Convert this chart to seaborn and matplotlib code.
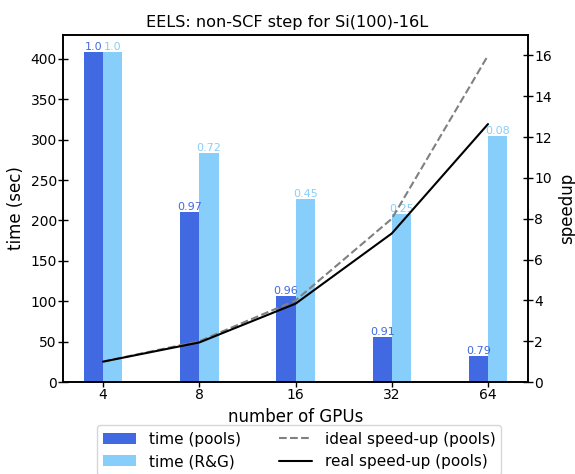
import numpy as np
import pandas as pd
import matplotlib
matplotlib.use("Agg")
import matplotlib.pyplot as plt
import seaborn as sns

gpus = ["4", "8", "16", "32", "64"]
time_pools = [409, 210.8, 106.5, 56.2, 32.4]
time_rg = [409, 283, 226, 208, 304]
eff_pools = [1.0, 0.97, 0.96, 0.91, 0.79]
eff_rg = [1.0, 0.72, 0.45, 0.25, 0.08]
ideal_speedup = [1, 2, 4, 8, 16]
real_speedup = [1, 1.94, 3.84, 7.28, 12.64]

sns.set_style("ticks", rc={
    "axes.edgecolor": "black", "text.color": "black",
    "axes.labelcolor": "black", "xtick.color": "black", "ytick.color": "black",
})
plt.rcParams["font.family"] = ["DejaVu Sans"]

df = pd.DataFrame({
    "gpus": gpus * 2,
    "time": time_pools + time_rg,
    "method": ["time (pools)"] * len(gpus) + ["time (R&G)"] * len(gpus),
})

fig = plt.figure(figsize=(5.75, 4.74), dpi=100)
ax = fig.add_axes([0.109, 0.194, 0.810, 0.732])
colors = {"time (pools)": "royalblue", "time (R&G)": "lightskyblue"}
sns.barplot(data=df, x="gpus", y="time", hue="method", order=gpus,
            palette=colors, width=0.4, ax=ax, saturation=1, legend=True,
            linewidth=0)
ax.get_legend().remove()

# efficiency annotations above each bar
for cont, effs, col in zip(ax.containers, [eff_pools, eff_rg],
                           ["royalblue", "lightskyblue"]):
    ax.bar_label(cont, labels=[f"{e}" for e in effs], color=col,
                 fontsize=8, padding=0)

ax.set_ylim(0, max(time_pools) * 1.05)
ax.set_xlim(-0.42, len(gpus) - 1 + 0.42)
ax.set_xlabel("number of GPUs", fontsize=12)
ax.set_ylabel("time (sec)", fontsize=12)
fig.suptitle("EELS: non-SCF step for Si(100)-16L", x=0.5, y=0.9437,
             va="baseline", fontsize=11.6)

ax2 = ax.twinx()
pos = np.arange(len(gpus))
sns.lineplot(x=pos, y=ideal_speedup, ax=ax2, color="gray", linestyle="--",
             linewidth=1.5, label="ideal speed-up (pools)")
sns.lineplot(x=pos, y=real_speedup, ax=ax2, color="black", linestyle="-",
             linewidth=1.5, label="real speed-up (pools)")
ax2.get_legend().remove()
ax2.set_ylim(0, 17)
ax2.set_ylabel("speedup", fontsize=12, rotation=90, labelpad=4)
ax2.set_xlim(ax.get_xlim())

for a in (ax, ax2):
    a.tick_params(direction="inout", labelsize=10, length=6.5, width=1,
                  color="black", pad=1)
    for s in a.spines.values():
        s.set_visible(True)
        s.set_linewidth(1.2)
        s.set_color("black")

h1, l1 = ax.get_legend_handles_labels()
h2, l2 = ax2.get_legend_handles_labels()
fig.legend(h1 + h2, l1 + l2, ncol=2, loc="upper center",
           bbox_to_anchor=(0.52, 0.109), fontsize=11, frameon=True,
           borderaxespad=0.2, handlelength=2.2, columnspacing=2.5)

fig.savefig("out.png", dpi=100)
